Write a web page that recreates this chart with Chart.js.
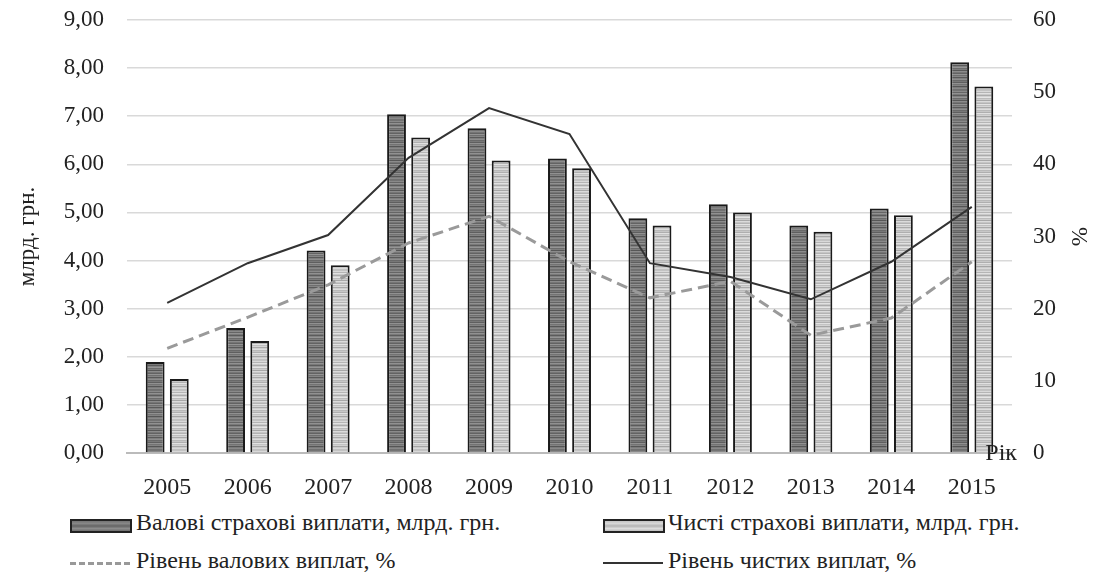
<!DOCTYPE html>
<html>
<head>
<meta charset="utf-8">
<script src="https://cdn.jsdelivr.net/npm/chart.js@4"></script>
<style>
  body { margin: 0; background: #fff; overflow: hidden; }
  #wrap { position: relative; width: 1101px; height: 578px; overflow: hidden; }
  #chart { position: absolute; left: 0; top: 0; }
  .leg { position: absolute; font-family: "Liberation Serif", serif; font-size: 24px; color: #222; white-space: nowrap; }
  .sym { position: absolute; }
</style>
</head>
<body>
<div id="wrap">
  <canvas id="chart" width="1101" height="508"></canvas>
  <div class="sym" id="s1" style="left:70px;top:519px;width:58px;height:10px;border:2px solid #222;"></div>
  <div class="leg" style="left:136px;top:509px;">Валові страхові виплати, млрд. грн.</div>
  <div class="sym" id="s2" style="left:603px;top:519px;width:58px;height:10px;border:2px solid #222;"></div>
  <div class="leg" style="left:668px;top:509px;">Чисті страхові виплати, млрд. грн.</div>
  <div class="sym" style="left:70px;top:562px;width:60px;height:0;border-top:3px dashed #999;"></div>
  <div class="leg" style="left:136px;top:547px;">Рівень валових виплат, %</div>
  <div class="sym" style="left:603px;top:562px;width:60px;height:0;border-top:2px solid #333;"></div>
  <div class="leg" style="left:668px;top:547px;">Рівень чистих виплат, %</div>
</div>
<script>
const years = ['2005','2006','2007','2008','2009','2010','2011','2012','2013','2014','2015'];
const grossPaid = [1.89, 2.60, 4.21, 7.04, 6.75, 6.12, 4.88, 5.17, 4.73, 5.08, 8.12];
const netPaid = [1.54, 2.33, 3.90, 6.56, 6.08, 5.92, 4.73, 5.00, 4.60, 4.94, 7.62];
const grossLevel = [14.5, 18.8, 23.3, 29.1, 32.8, 26.5, 21.5, 23.8, 16.3, 18.7, 26.5];
const netLevel = [20.8, 26.3, 30.2, 40.9, 47.8, 44.2, 26.3, 24.4, 21.3, 26.5, 34.1];

// stripe shades for the bar texture (row offsets, fixed)
const stripeRows = [0, 22, -14, 30, 6, -24, 14, 34, -8, 10, -28, 24, 2, -16, 32, -4, 18, -26, 12, 26, -10, 4, -20, 30, 0, 16, -30, 8, 22, -2];

function makeStripes(base) {
  const c = document.createElement('canvas');
  c.width = 8; c.height = stripeRows.length;
  const g = c.getContext('2d');
  stripeRows.forEach(function(off, i) {
    const v = Math.max(0, Math.min(255, base + off));
    g.fillStyle = 'rgb(' + v + ',' + v + ',' + v + ')';
    g.fillRect(0, i, 8, 1);
  });
  return document.getElementById('chart').getContext('2d').createPattern(c, 'repeat');
}

function swatch(id, base) {
  const el = document.getElementById(id);
  const rows = [0, 20, -15, 25, -5];
  el.style.background = 'linear-gradient(to bottom,' + rows.map(function(o) {
    const v = base + o; return 'rgb(' + v + ',' + v + ',' + v + ')';
  }).join(',') + ')';
}
swatch('s1', 115);
swatch('s2', 195);

const serif = '"Liberation Serif", serif';

const extraText = {
  id: 'extraText',
  afterDraw(chart) {
    const ctx = chart.ctx;
    const a = chart.chartArea;
    ctx.save();
    ctx.fillStyle = '#222';
    ctx.font = '24px ' + serif;
    ctx.textAlign = 'right';
    ctx.textBaseline = 'middle';
    ctx.fillText('Рік', a.right + 5, a.bottom + 1);
    ctx.restore();
  }
};

new Chart(document.getElementById('chart'), {
  data: {
    labels: years,
    datasets: [
      { type: 'line', label: 'Рівень валових виплат, %', data: grossLevel, yAxisID: 'y1',
        borderColor: '#9a9a9a', borderWidth: 3, borderDash: [11, 6], pointRadius: 0, tension: 0, order: 0 },
      { type: 'line', label: 'Рівень чистих виплат, %', data: netLevel, yAxisID: 'y1',
        borderColor: '#333', borderWidth: 2, pointRadius: 0, tension: 0, order: 0 },
      { type: 'bar', label: 'Валові страхові виплати, млрд. грн.', data: grossPaid, yAxisID: 'y',
        backgroundColor: makeStripes(115), borderColor: '#1a1a1a', borderWidth: 2,
        categoryPercentage: 0.6, barPercentage: 0.78, order: 1 },
      { type: 'bar', label: 'Чисті страхові виплати, млрд. грн.', data: netPaid, yAxisID: 'y',
        backgroundColor: makeStripes(195), borderColor: '#1a1a1a', borderWidth: 2,
        categoryPercentage: 0.6, barPercentage: 0.78, order: 1 }
    ]
  },
  options: {
    responsive: false,
    animation: false,
    layout: { padding: { top: 20, right: 0, left: 0, bottom: 0 } },
    plugins: { legend: { display: false }, tooltip: { enabled: false } },
    scales: {
      x: {
        grid: { display: false },
        border: { color: '#bbb', width: 2 },
        ticks: { color: '#222', font: { family: serif, size: 24 }, padding: 12, maxRotation: 0 },
        afterFit(s) { s.height = 55; }
      },
      y: {
        position: 'left', min: 0, max: 9,
        grid: { color: '#d9d9d9', lineWidth: 1.5, drawTicks: true, tickLength: 21, tickColor: 'rgba(0,0,0,0)' },
        border: { display: false },
        ticks: { stepSize: 1, color: '#222', font: { family: serif, size: 23 }, padding: 2,
          callback: function(v) { return v.toFixed(2).replace('.', ','); } },
        title: { display: true, text: 'млрд. грн.', color: '#222', font: { family: serif, size: 23 }, padding: { top: 14, bottom: 0 } },
        afterFit(s) { s.width = 127; }
      },
      y1: {
        position: 'right', min: 0, max: 60,
        grid: { display: false, drawTicks: true, tickLength: 19 },
        border: { display: false },
        ticks: { stepSize: 10, color: '#222', font: { family: serif, size: 23 }, padding: 2 },
        title: { display: true, text: '%', color: '#222', font: { family: serif, size: 23 }, padding: { top: 9, bottom: 0 } },
        afterFit(s) { s.width = 89; }
      }
    }
  },
  plugins: [extraText]
});
</script>
</body>
</html>
